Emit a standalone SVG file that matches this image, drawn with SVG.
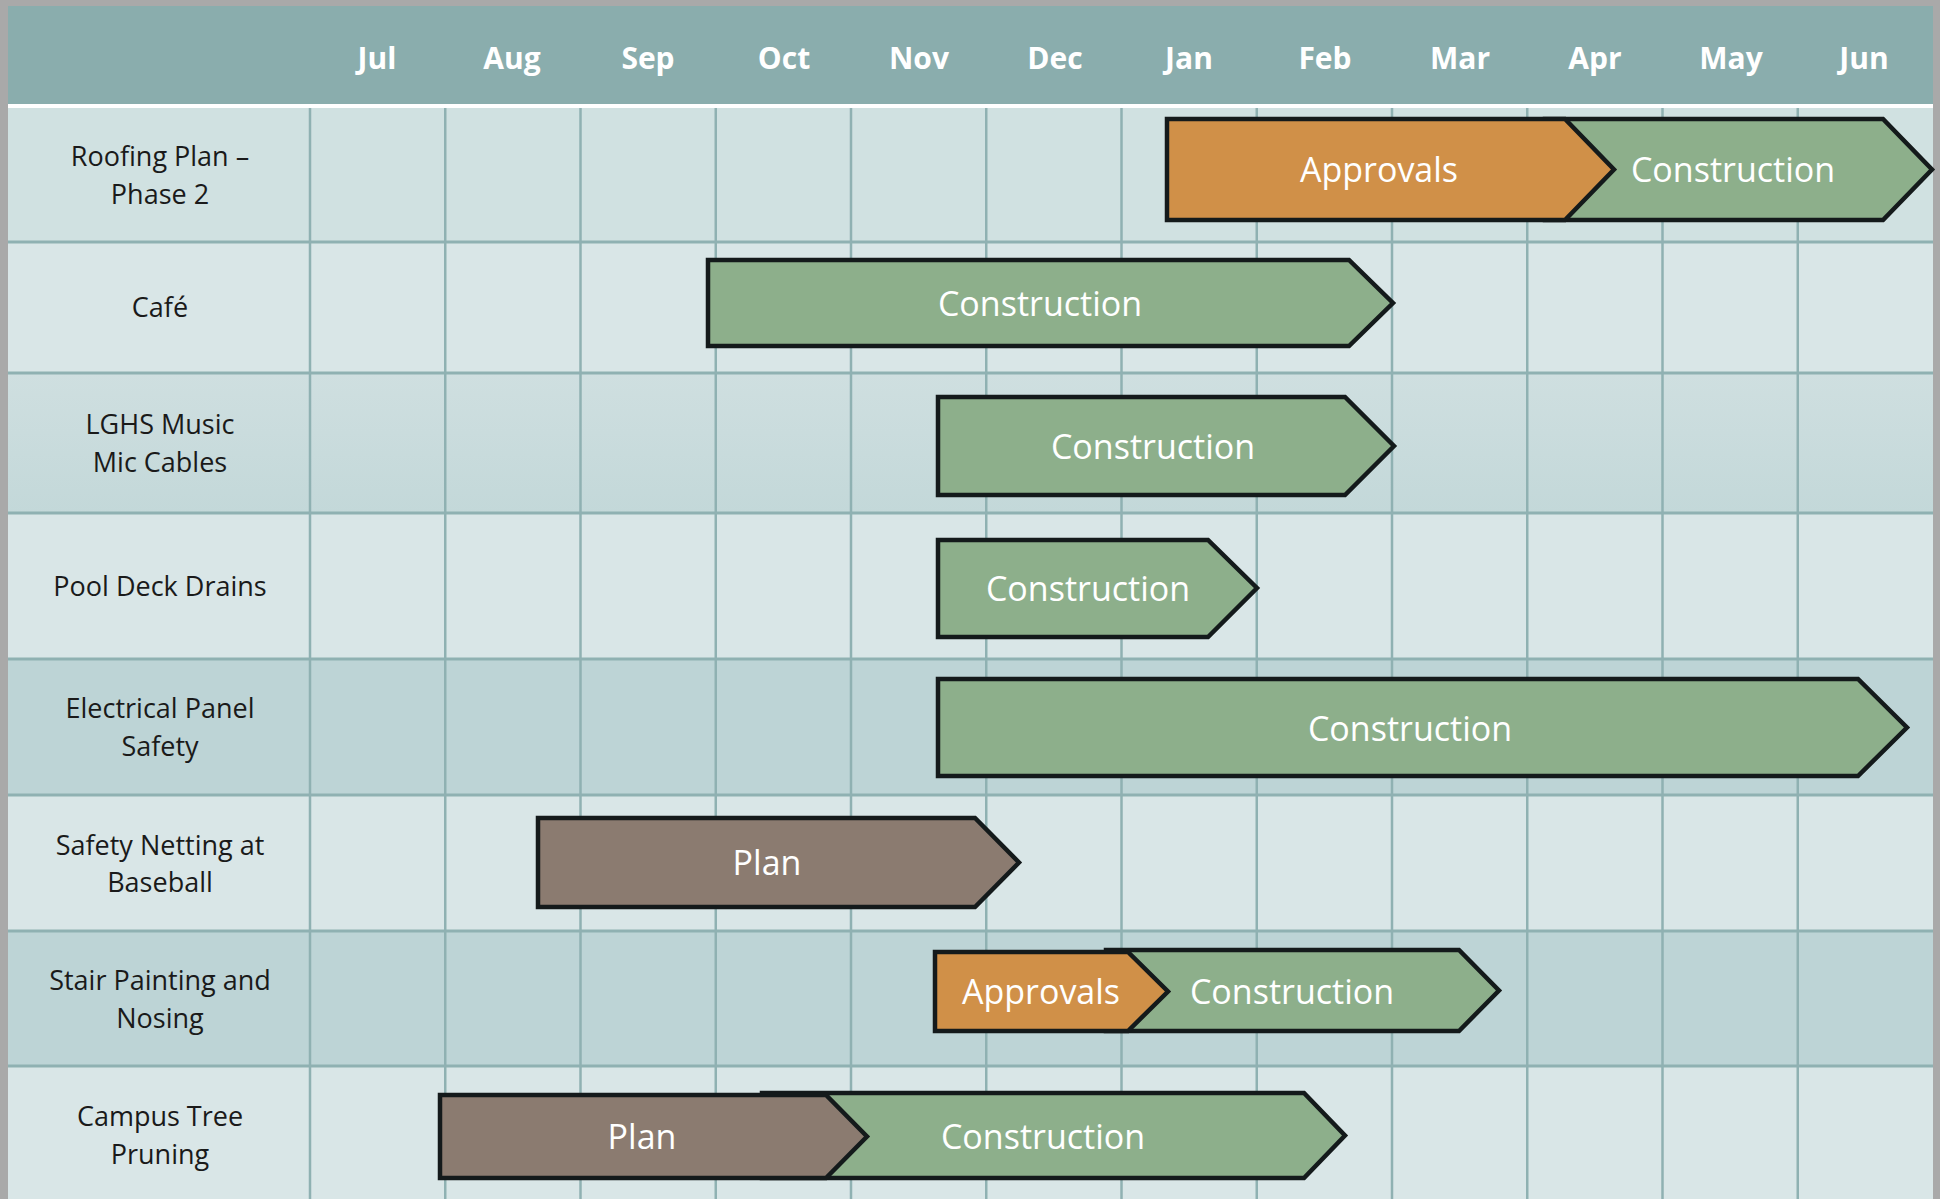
<svg xmlns="http://www.w3.org/2000/svg" width="1940" height="1199" viewBox="0 0 1940 1199">
  <style>
    .month { font-family: "Open Sans", "Liberation Sans", sans-serif; font-weight: 700; font-size: 30px; fill: #ffffff; text-anchor: middle; }
    .label { font-family: "Open Sans", "Liberation Sans", sans-serif; font-size: 27px; fill: #1a1a1a; text-anchor: middle; }
    .bartext { font-family: "Open Sans", "Liberation Sans", sans-serif; font-size: 34px; fill: #ffffff; text-anchor: middle; }
    .bar { stroke: #141a1b; stroke-width: 4.5; stroke-linejoin: miter; }
    .appr { fill: #d09048; }
    .cons { fill: #8daf8b; }
    .plan { fill: #8b7b70; }
    .hline { stroke: #8fb1b2; stroke-width: 3; }
    .vline { stroke: #8fb1b2; stroke-width: 2.5; }
  </style>
  <defs>
    <linearGradient id="row3grad" x1="0" y1="0" x2="0" y2="1">
      <stop offset="0" stop-color="#cfdfe0"/>
      <stop offset="1" stop-color="#c3d8d9"/>
    </linearGradient>
  </defs>

  <!-- frame -->
  <rect x="0" y="0" width="1940" height="1199" fill="#a9a9a9"/>
  <!-- header -->
  <rect x="8" y="6" width="1925" height="98" fill="#8aadad"/>
  <rect x="8" y="104" width="1925" height="4" fill="#ffffff"/>

  <!-- row backgrounds -->
  <g id="rows">
    <rect x="8" y="108" width="1925" height="134" fill="#d0e1e1"/>
    <rect x="8" y="242" width="1925" height="131" fill="#d9e6e7"/>
    <rect x="8" y="373" width="1925" height="140" fill="url(#row3grad)"/>
    <rect x="8" y="513" width="1925" height="146" fill="#d9e6e7"/>
    <rect x="8" y="659" width="1925" height="136" fill="#bdd4d6"/>
    <rect x="8" y="795" width="1925" height="136" fill="#d9e6e7"/>
    <rect x="8" y="931" width="1925" height="135" fill="#bdd4d6"/>
    <rect x="8" y="1066" width="1925" height="133" fill="#d9e6e7"/>
  </g>

  <!-- grid -->
  <g id="grid">
    <line class="hline" x1="8" y1="242" x2="1933" y2="242"/>
    <line class="hline" x1="8" y1="373" x2="1933" y2="373"/>
    <line class="hline" x1="8" y1="513" x2="1933" y2="513"/>
    <line class="hline" x1="8" y1="659" x2="1933" y2="659"/>
    <line class="hline" x1="8" y1="795" x2="1933" y2="795"/>
    <line class="hline" x1="8" y1="931" x2="1933" y2="931"/>
    <line class="hline" x1="8" y1="1066" x2="1933" y2="1066"/>
    <line class="vline" x1="310" y1="108" x2="310" y2="1199"/>
    <line class="vline" x1="445.25" y1="108" x2="445.25" y2="1199"/>
    <line class="vline" x1="580.5" y1="108" x2="580.5" y2="1199"/>
    <line class="vline" x1="715.75" y1="108" x2="715.75" y2="1199"/>
    <line class="vline" x1="851" y1="108" x2="851" y2="1199"/>
    <line class="vline" x1="986.25" y1="108" x2="986.25" y2="1199"/>
    <line class="vline" x1="1121.5" y1="108" x2="1121.5" y2="1199"/>
    <line class="vline" x1="1256.75" y1="108" x2="1256.75" y2="1199"/>
    <line class="vline" x1="1392" y1="108" x2="1392" y2="1199"/>
    <line class="vline" x1="1527.25" y1="108" x2="1527.25" y2="1199"/>
    <line class="vline" x1="1662.5" y1="108" x2="1662.5" y2="1199"/>
    <line class="vline" x1="1797.75" y1="108" x2="1797.75" y2="1199"/>
  </g>

  <!-- months -->
  <g id="months">
    <text class="month" x="377" y="69">Jul</text>
    <text class="month" x="512" y="69">Aug</text>
    <text class="month" x="648" y="69">Sep</text>
    <text class="month" x="784" y="69">Oct</text>
    <text class="month" x="919" y="69">Nov</text>
    <text class="month" x="1055" y="69">Dec</text>
    <text class="month" x="1189" y="69">Jan</text>
    <text class="month" x="1325" y="69">Feb</text>
    <text class="month" x="1460" y="69">Mar</text>
    <text class="month" x="1595" y="69">Apr</text>
    <text class="month" x="1731" y="69">May</text>
    <text class="month" x="1864" y="69">Jun</text>
  </g>

  <!-- row labels -->
  <g id="label-roofing"><text class="label" x="160" y="166">Roofing Plan –</text><text class="label" x="160" y="204">Phase 2</text></g>
  <g id="label-cafe"><text class="label" x="160" y="317">Café</text></g>
  <g id="label-lghs"><text class="label" x="160" y="434">LGHS Music</text><text class="label" x="160" y="472">Mic Cables</text></g>
  <g id="label-pool"><text class="label" x="160" y="596">Pool Deck Drains</text></g>
  <g id="label-electrical"><text class="label" x="160" y="718">Electrical Panel</text><text class="label" x="160" y="756">Safety</text></g>
  <g id="label-netting"><text class="label" x="160" y="855">Safety Netting at</text><text class="label" x="160" y="892">Baseball</text></g>
  <g id="label-stair"><text class="label" x="160" y="990">Stair Painting and</text><text class="label" x="160" y="1028">Nosing</text></g>
  <g id="label-tree"><text class="label" x="160" y="1126">Campus Tree</text><text class="label" x="160" y="1164">Pruning</text></g>

  <!-- bars -->
  <g id="bar-roofing">
    <path class="bar cons" d="M1545 119 H1883 L1932 169.5 L1883 220 H1545 Z"/>
    <path class="bar appr" d="M1167 119 H1565 L1614 169.5 L1565 220 H1167 Z"/>
    <text class="bartext" x="1379" y="182">Approvals</text>
    <text class="bartext" x="1733" y="182">Construction</text>
  </g>
  <g id="bar-cafe">
    <path class="bar cons" d="M708 260 H1349 L1393 303 L1349 346 H708 Z"/>
    <text class="bartext" x="1040" y="316">Construction</text>
  </g>
  <g id="bar-lghs">
    <path class="bar cons" d="M938 397 H1345 L1394 446 L1345 495 H938 Z"/>
    <text class="bartext" x="1153" y="459">Construction</text>
  </g>
  <g id="bar-pool">
    <path class="bar cons" d="M938 540 H1208 L1257 588 L1208 637 H938 Z"/>
    <text class="bartext" x="1088" y="601">Construction</text>
  </g>
  <g id="bar-electrical">
    <path class="bar cons" d="M938 679 H1858 L1907 727.5 L1858 776 H938 Z"/>
    <text class="bartext" x="1410" y="741">Construction</text>
  </g>
  <g id="bar-netting">
    <path class="bar plan" d="M538 818 H975 L1019 862.5 L975 907 H538 Z"/>
    <text class="bartext" x="767" y="875">Plan</text>
  </g>
  <g id="bar-stair">
    <path class="bar cons" d="M1106 950 H1459 L1499 990.5 L1459 1031 H1106 Z"/>
    <path class="bar appr" d="M935 952 H1128 L1168 991.5 L1128 1031 H935 Z"/>
    <text class="bartext" x="1041" y="1004">Approvals</text>
    <text class="bartext" x="1292" y="1004">Construction</text>
  </g>
  <g id="bar-tree">
    <path class="bar cons" d="M762 1093 H1304 L1345 1135.5 L1304 1178 H762 Z"/>
    <path class="bar plan" d="M440 1095 H826 L867 1136.5 L826 1178 H440 Z"/>
    <text class="bartext" x="642" y="1149">Plan</text>
    <text class="bartext" x="1043" y="1149">Construction</text>
  </g>
</svg>
